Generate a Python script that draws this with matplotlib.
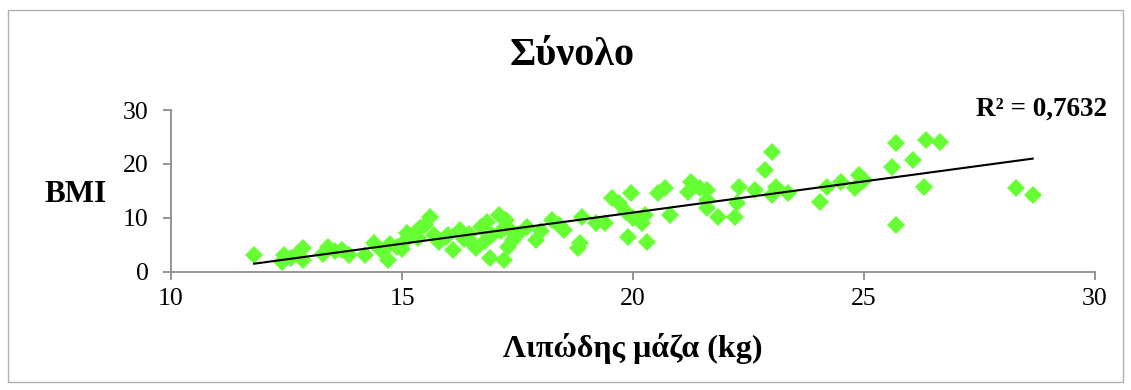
import numpy as np
import matplotlib.pyplot as plt
from matplotlib.patches import Rectangle

# Λιπώδης μάζα (kg) vs BMI
fat_mass = [11.8, 12.4, 12.45, 12.6, 12.85, 12.85, 12.75, 13.4, 13.3, 13.7, 13.85, 13.55,
            14.2, 14.4, 14.55, 14.7, 14.75, 14.9, 15.05, 15.1, 15.0,
            15.3, 15.4, 15.5, 15.6, 15.35, 15.7, 15.8, 15.95, 16.1, 16.0, 16.25, 16.35,
            16.5, 16.45, 16.7, 16.85, 16.6, 16.9, 16.95, 17.1, 17.25, 17.2, 17.3, 17.4,
            17.3, 17.5, 17.15, 16.8,
            17.7, 17.9, 18.0, 18.25, 18.5, 18.4, 18.85, 18.8, 18.9, 19.2, 19.4, 19.55,
            19.7, 19.85, 19.95, 19.9, 20.0, 20.2,
            20.3, 20.25, 20.55, 20.7, 20.8, 21.25, 21.2, 21.45, 21.6, 21.6, 21.6, 21.85,
            22.2, 22.3, 22.25, 22.65, 22.85, 23.0, 23.0, 23.1, 23.35,
            24.05, 24.2, 24.5, 24.8, 24.9, 25.0, 25.6, 25.7, 25.7, 26.05, 26.3, 26.35,
            26.65, 28.3, 28.65]
bmi = [3.1, 1.8, 3.1, 2.6, 4.4, 2.1, 3.5, 4.6, 3.2, 4.0, 3.1, 3.8,
       3.1, 5.3, 4.0, 2.1, 5.2, 4.5, 5.4, 7.1, 4.2,
       7.3, 8.0, 8.6, 10.2, 6.2, 6.7, 5.5, 6.4, 4.0, 6.8, 7.7, 6.0,
       5.4, 7.0, 8.3, 9.2, 4.4, 2.5, 6.8, 10.5, 9.6, 2.1, 8.1, 5.8,
       4.6, 6.9, 7.5, 5.6,
       8.3, 5.8, 7.5, 9.6, 7.7, 8.7, 5.3, 4.4, 10.1, 9.0, 9.0, 13.6,
       12.7, 11.0, 14.6, 6.4, 9.9, 9.0,
       5.5, 10.5, 14.6, 15.5, 10.5, 16.6, 14.8, 15.5, 15.1, 13.3, 11.8, 10.1,
       10.1, 15.7, 12.7, 15.1, 18.9, 22.2, 14.2, 15.7, 14.6,
       12.9, 15.7, 16.6, 15.5, 17.9, 17.0, 19.4, 23.9, 8.6, 20.7, 15.7, 24.4,
       24.1, 15.5, 14.2]

x_ticks = [10, 15, 20, 25, 30]
y_ticks = [0, 10, 20, 30]
r2_text = "R² = 0,7632"

plt.rcParams['font.family'] = ['Liberation Serif', 'DejaVu Serif']

fig = plt.figure(figsize=(11.31, 3.90), dpi=100)
ax = fig.add_axes([0.1512, 0.3038, 0.8170, 0.4141])

x = np.array(fat_mass)
y = np.array(bmi)
ax.plot(x, y, 'D', color='#66FF33', markersize=9, markeredgewidth=0, zorder=2)

# linear trendline
a, b = np.polyfit(x, y, 1)
xl = np.array([x.min(), x.max()])
ax.plot(xl, a * xl + b, color='black', linewidth=1.5, zorder=3)

ax.set_xlim(10, 30)
ax.set_ylim(0, 30)
ax.set_xticks(x_ticks)
ax.set_yticks(y_ticks)
for s in ['top', 'right']:
    ax.spines[s].set_visible(False)
for s in ['left', 'bottom']:
    ax.spines[s].set_color('#8c8c8c')
    ax.spines[s].set_linewidth(1.3)
ax.tick_params(axis='both', direction='out', length=6, width=1.3, color='#8c8c8c',
               labelsize=18.5)
ax.tick_params(axis='y', pad=10)
ax.tick_params(axis='x', pad=6)

fig.text(572 / 1131, 1 - 65 / 390, "Σύνολο", ha='center', va='baseline', fontsize=29,
         fontweight='bold')
fig.text(76 / 1131, 1 - 201.5 / 390, "BMI", ha='center', va='baseline', fontsize=22.5,
         fontweight='bold')
fig.text(632.5 / 1131, 1 - 357 / 390, "Λιπώδης μάζα (kg)", ha='center', va='baseline',
         fontsize=23, fontweight='bold')
fig.text(1041 / 1131, 1 - 116 / 390, r2_text, ha='center', va='baseline', fontsize=19.5,
         fontweight='bold')

fig.patches.append(Rectangle((8 / 1131, 8 / 390), 1115 / 1131, 372 / 390,
                             transform=fig.transFigure, fill=False,
                             edgecolor='#b0b0b0', linewidth=1))

fig.savefig('out.png', dpi=100)
